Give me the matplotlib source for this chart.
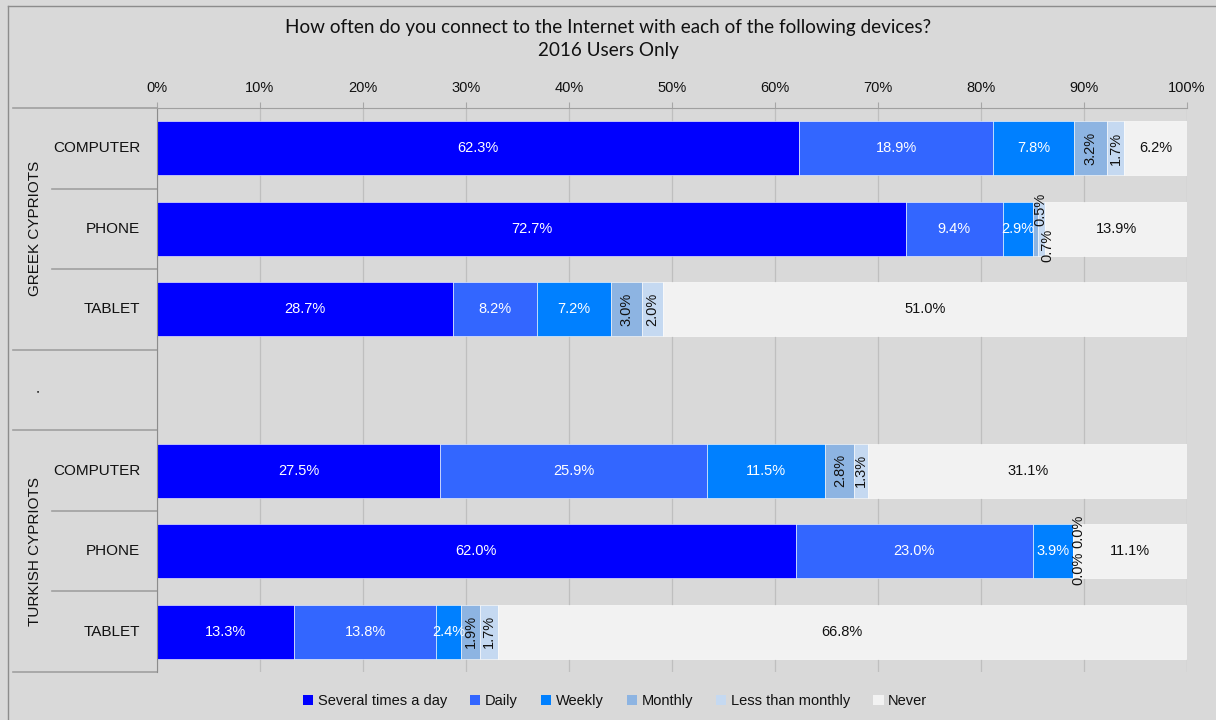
import numpy as np
import matplotlib
matplotlib.use("Agg")
import matplotlib.pyplot as plt
import matplotlib.transforms as mtransforms
from matplotlib.patches import Patch
from matplotlib.lines import Line2D

plt.rcParams['font.family'] = ['Liberation Sans', 'DejaVu Sans']

# data (percent of respondents), rows top to bottom, blank row between groups
devices = ["COMPUTER", "PHONE", "TABLET", "", "COMPUTER", "PHONE", "TABLET"]
groups = ["GREEK CYPRIOTS", ".", "TURKISH CYPRIOTS"]
group_rows = [[0, 1, 2], [3], [4, 5, 6]]
bar_rows = [0, 1, 2, 4, 5, 6]

series = ["Several times a day", "Daily", "Weekly", "Monthly", "Less than monthly", "Never"]
several = [62.3, 72.7, 28.7, 27.5, 62.0, 13.3]
daily = [18.9, 9.4, 8.2, 25.9, 23.0, 13.8]
weekly = [7.8, 2.9, 7.2, 11.5, 3.9, 2.4]
monthly = [3.2, 0.5, 3.0, 2.8, 0.0, 1.9]
less_monthly = [1.7, 0.7, 2.0, 1.3, 0.0, 1.7]
never = [6.2, 13.9, 51.0, 31.1, 11.1, 66.8]
values = [several, daily, weekly, monthly, less_monthly, never]

colors = ["#0000FF", "#3366FF", "#0080FF", "#8DB4E2", "#C5D9F1", "#F2F2F2"]
label_colors = ["white", "white", "white", "#111111", "#111111", "#111111"]
rotated = [False, False, False, True, True, False]

BG = "#d9d9d9"
fig = plt.figure(figsize=(12.16, 7.2), dpi=100, facecolor=BG)
ax = fig.add_axes([157 / 1216, 1 - 672 / 720, 1030 / 1216, 564 / 720])
ax.set_facecolor(BG)

left = np.zeros(len(bar_rows))
for i, vals in enumerate(values):
    vals = np.array(vals)
    ax.barh(bar_rows, vals, left=left, height=0.67, color=colors[i],
            edgecolor="white", linewidth=0.4, label=series[i], zorder=2)
    for r, v, l in zip(bar_rows, vals, left):
        x = l + v / 2
        y = r
        # tiny monthly / less-than-monthly segments: labels pushed apart
        if rotated[i] and v < 1.0:
            y = r - 0.24 if i == 3 else r + 0.21
            x = x + 0.55 if i == 3 else x + 0.6
        ax.text(x, y, f"{v:.1f}%", ha="center", va="center",
                rotation=90 if rotated[i] else 0,
                color=label_colors[i], fontsize=10.5, zorder=3)
    left = left + vals

ax.set_xlim(0, 100)
ax.set_ylim(6.5, -0.5)
ax.set_xticks(np.arange(0, 101, 10))
ax.set_xticklabels([f"{t}%" for t in range(0, 101, 10)])
ax.xaxis.tick_top()
ax.tick_params(axis="x", length=4, color="#a6a6a6", pad=5,
               labelsize=10.5, labelcolor="#111111")
ax.set_yticks([])
ax.grid(axis="x", color="#bfbfbf", linewidth=0.9)
ax.set_axisbelow(True)
for s in ["right", "bottom"]:
    ax.spines[s].set_visible(False)
ax.spines["top"].set_color("#a0a0a0")
ax.spines["left"].set_color("#8c8c8c")

# category labels and separators in the left label area
trans = mtransforms.blended_transform_factory(ax.transAxes, ax.transData)
for r, name in enumerate(devices):
    if name:
        ax.text(-17 / 1030, r, name, transform=trans, ha="right", va="center",
                fontsize=11, color="#111111")
for y in [-0.5, 2.5, 3.5, 6.5]:
    ax.plot([-144 / 1030, 0], [y, y], transform=trans, color="#a0a0a0",
            lw=1.2, clip_on=False)
for y in [0.5, 1.5, 4.5, 5.5]:
    ax.plot([-105 / 1030, 0], [y, y], transform=trans, color="#a0a0a0",
            lw=1.2, clip_on=False)
for g, rows in zip(groups, group_rows):
    ax.text(-122 / 1030, np.mean(rows), g, transform=trans, ha="center",
            va="center", rotation=90, fontsize=11, color="#111111")

# chart border (left and top edges visible)
fig.add_artist(Line2D([8 / 1216, 8 / 1216], [0, 1 - 6 / 720], color="#8c8c8c", lw=1))
fig.add_artist(Line2D([8 / 1216, 1], [1 - 6 / 720, 1 - 6 / 720], color="#8c8c8c", lw=1))

fig.text(0.5, 1 - 39 / 720,
         "How often do you connect to the Internet with each of the following devices?\n2016 Users Only",
         ha="center", va="center", fontsize=13.6, family=["Lato", "DejaVu Sans"],
         color="#111111", linespacing=1.4)

handles = [Patch(facecolor=c, edgecolor="none") for c in colors]
fig.legend(handles, series, loc="center", bbox_to_anchor=(615 / 1216, 1 - 701 / 720),
           ncol=6, frameon=False, fontsize=10.5, handlelength=0.7, handleheight=0.7,
           handletextpad=0.3, columnspacing=1.6, labelcolor="#111111")

fig.savefig("out.png", dpi=100, facecolor=BG)
